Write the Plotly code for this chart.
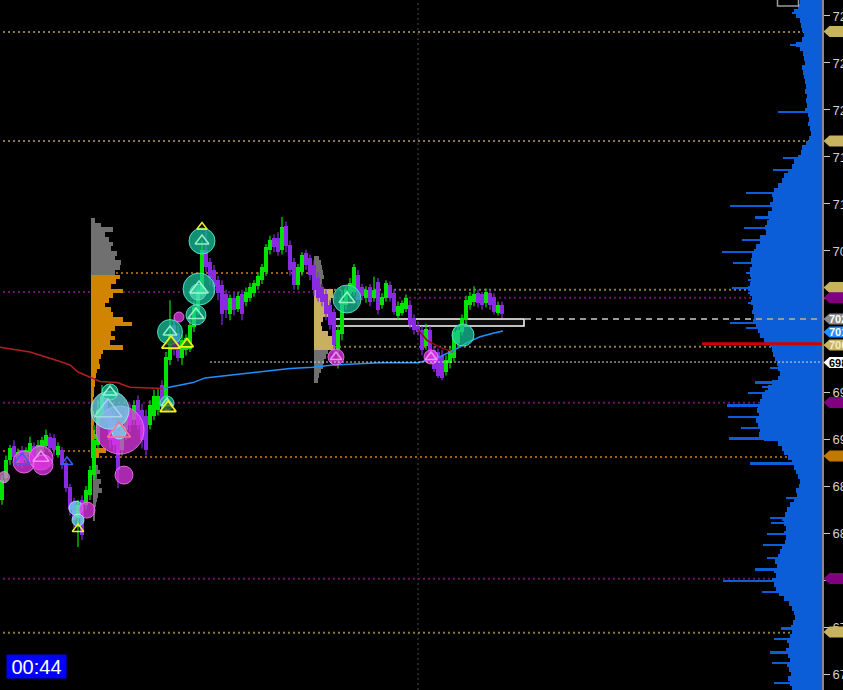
import plotly.graph_objects as go

# ---------------- candles (bar index, OHLC) ----------------
opens = [6868,6887,6902,6914,6900,6911,6902,6906,6914,6906,6911,6914,6922,6921,6906,6911,6900,6879,6866,6853,
         6868,6864,6872,6889,6915,6940,6955,6945,6936,6928,6911,6928,6945,6936,6953,6945,6940,6932,6940,6945,
         6966,6949,6987,7017,7010,6989,6996,6997,7015,7028,7044,7081,7071,7064,7055,7051,7043,7026,7040,7031,
         7043,7037,7040,7044,7050,7055,7062,7081,7091,7091,7081,7101,7085,7071,7051,7062,7078,7074,7068,7057,
         7049,7043,7034,7028,6996,7009,7034,7043,7045,7060,7049,7040,7049,7040,7054,7034,7040,7051,7044,7025,
         7027,7031,7034,7023,7016,7013,6999,7013,6996,6994,6991,6977,6985,6989,7002,7011,7021,7034,7037,7044,
         7043,7036,7044,7041,7027,7034]
highs = [6889,6906,6915,6919,6912,6914,6913,6922,6917,6919,6922,6928,6925,6924,6917,6913,6902,6882,6870,6868,
         6872,6880,6897,6932,6953,6966,6962,6949,6943,6932,6936,6945,6950,6953,6957,6950,6945,6953,6962,6963,
         6970,6994,7038,7023,7016,7009,7009,7021,7037,7050,7089,7098,7074,7068,7059,7055,7047,7043,7045,7045,
         7047,7049,7053,7055,7062,7069,7086,7093,7094,7096,7109,7105,7089,7074,7069,7079,7081,7077,7072,7062,
         7052,7047,7038,7031,7017,7047,7050,7057,7069,7064,7052,7050,7052,7058,7057,7044,7055,7054,7047,7037,
         7038,7043,7038,7026,7020,7016,7018,7016,6999,6997,6996,6991,6999,7014,7016,7026,7042,7045,7050,7047,
         7045,7048,7047,7044,7037,7037]
lows = [6864,6883,6898,6902,6897,6895,6899,6904,6902,6904,6908,6911,6909,6906,6904,6894,6875,6855,6844,6828,
        6834,6860,6868,6885,6911,6936,6932,6912,6909,6878,6906,6919,6926,6932,6928,6912,6906,6928,6936,6940,
        6945,6945,6983,6991,6986,6983,6991,6994,7011,7025,7042,7062,7051,7043,7038,7017,7023,7021,7025,7028,
        7021,7033,7037,7041,7047,7052,7059,7077,7079,7076,7077,7079,7059,7047,7047,7059,7064,7055,7042,7037,
        7033,7021,7013,6987,6980,7004,7030,7038,7042,7034,7038,7036,7033,7037,7026,7031,7037,7037,7026,7022,
        7025,7028,7014,7009,7008,6991,6996,6986,6977,6972,6970,6974,6980,6986,6997,7008,7017,7030,7033,7032,
        7030,7032,7030,7026,7025,7023]
closes = [6885,6902,6912,6905,6909,6900,6911,6917,6905,6915,6919,6923,6912,6911,6914,6898,6878,6860,6851,6864,
          6838,6877,6894,6919,6945,6957,6936,6919,6915,6894,6932,6940,6932,6949,6932,6919,6911,6949,6957,6957,
          6949,6990,7009,6996,6989,7004,7006,7017,7032,7047,7081,7066,7057,7049,7044,7026,7030,7040,7030,7042,
          7026,7045,7049,7053,7059,7066,7083,7089,7083,7079,7100,7084,7064,7051,7066,7077,7068,7060,7047,7040,
          7037,7026,7017,7000,7013,7038,7047,7053,7066,7038,7042,7047,7037,7047,7030,7041,7053,7040,7028,7033,
          7036,7040,7017,7013,7011,6996,7014,6989,6980,6974,6972,6987,6996,7011,7013,7023,7038,7042,7043,7036,
          7034,7045,7034,7028,7034,7026]

# ---------------- VWAP-like lines (bar index, price) ----------------
vwap_x = [40.25,43.25,47.75,50.75,62,72,77.75,82.75,94.5,104,109.5,113.25,116.25,119.5,122.75,125.25]
vwap_p = [6963,6965,6968,6972,6976,6980,6981,6983,6985,6985,6990,6996,7002,7007,7010,7012]
red_x = [-0.5,7,14.5,17,19,22,24.5,28.75,32,40.25]
red_p = [6998,6994,6986,6983,6977,6973,6969,6968,6964,6963]
red2_x = [104,106.25,109.5,112.75]
red2_p = [7013,7004,6998,6994]

# ---------------- session volume profiles (left) ----------------
sessA_start = 22.25
sessA_gray_p = [7106,7102,7098,7094,7090,7086,7082,7078,7074,7070,7066,7062]
sessA_gray_v = [4,10,22,14,18,22,20,26,24,30,29,24]
sessA_or_p = [7058,7054,7050,7046,7042,7038,7034,7030,7026,7022,7018,7014,7010,7006,7002,6998,6994,6990,6986,6982,
              6978,6974,6970,6966,6962,6958,6954,6950,6946,6942,6938,6934,6930,6926,6922,6918,6914,6910,6906]
sessA_or_v = [29,25,20,32,22,18,14,20,22,32,41,24,20,24,19,32,12,10,8,9,
              6,5,4,4,3,3,2,2,2,3,2,3,2,4,9,3,4,15,8]
sessA_low_p = [6900,6896,6892,6888,6884,6880,6876,6872,6868,6864,6860,6856,6852]
sessA_low_v = [3,5,7,4,8,6,9,5,4,3,2,2,2]

sessB_start = 78.0
sessB_top_p = [7074,7070,7066,7062,7058,7054,7050]
sessB_top_v = [5,7,8,9,10,8,7]
sessB_va_p = [7046,7042,7038,7034,7030,7026,7022,7018,7014,7010,7006,7002,6998]
sessB_va_v = [19,19,17,16,18,17,9,7,8,14,19,21,21]
sessB_bot_p = [6994,6990,6986,6982,6978,6974,6970]
sessB_bot_v = [14,12,10,9,7,5,4]

# ---------------- right-hand composite profile ----------------
prof_p = [7292 - 4 * k for k in range(147)]
prof_v = [22,24,28,26,22,21,20,18,20,26,22,19,18,17,20,19,18,17,16,17,
          15,16,15,17,14,13,14,12,11,13,16,20,21,24,28,30,34,38,40,44,
          48,50,49,52,50,54,53,55,57,56,62,62,66,68,70,71,70,72,72,71,
          72,74,72,70,71,69,70,68,69,66,64,62,58,52,50,49,47,45,44,42,
          44,50,54,57,60,62,64,65,63,66,64,62,63,58,44,40,38,34,30,28,
          26,24,22,23,26,25,28,32,35,37,40,38,36,38,36,37,40,42,44,47,
          45,48,46,50,48,46,43,38,33,30,28,27,29,31,30,32,35,33,36,34,
          32,35,33,31,34,32,30]
spike_p = [7282.5,7255.3,7198.3,7159.1,7148.9,7129.3,7118.3,7108.9,7099.6,7091.9,7089.3,7079.1,7069.8,7061.3,
           7055.3,7048.5,7044.2,7035.7,7028.9,7018.7,7014.4,6980.4,6968.5,6964.2,6959.1,6948.9,6938.7,6929.3,
           6920.8,6899.5,6869.7,6852.7,6848.5,6839.1,6829.8,6818.7,6809.3,6799.1,6789.8,6759.1,6749.7,6738.7,
           6729.3,6712.3]
spike_v = [30,32,44,39,49,76,92,67,78,58,80,100,89,76,74,90,74,74,69,92,76,52,67,60,74,95,94,81,
           93,72,36,52,51,55,59,55,67,99,60,41,48,52,50,48]

# ---------------- bubbles & triangles ----------------
bub_x = [0.5,5.5,9.75,10.25,30.5,29.5,27,29.25,27,18.5,21.25,19,41.25,42,44.25,48.5,49.25,49,50,86.25,83.5,107.25,115.25]
bub_p = [6887.6,6900.4,6903.8,6898,6889.3,6927.6,6944.6,6926,6960,6861.2,6859.5,6851,6950.6,7011,7023.8,7025.5,
         7047.6,7045,7088.5,7039.1,6989.8,6989.8,7008.5]
bub_vol = [11,22,24,20,18,48,38,14,16,14,16,12,14,25,10,20,32,16,26,28,16,14,22]
bub_kind = ['pink','mag','mag','mag','mag','mag','cyan','cyan','teal','cyan','mag','cyan','teal','teal','mag',
            'teal','teal','tealhi','teal','teal','mag','mag','teal']

tri_x = [5,9.75,16.25,19,29.25,27,26.5,41.25,42,48.5,49.25,50,50,86.25,83.5,107.25]
tri_p = [6902,6904,6900.4,6843.4,6926,6960,6944,6950.6,7011,7025.5,7047.6,7088.5,7100.4,7039.1,6989.8,6989.8]
tri_sz = [14,14,10,10,20,12,24,10,12,14,16,12,9,14,10,10]
tri_kind = ['blue','pink','blue','yellow','salmon','light','lightc','light','light','light','light','light','yellow',
            'light','pink','pink']
tri_solid_x = [41.5,42.25,46.25]
tri_solid_p = [6946.4,7000.8,7000.8]
tri_solid_sz = [14,16,11]

# ---------------- price levels ----------------
# (price, colour key, start bar, end bar)
levels = [(7266.4,'gold',-1,205),(7173.6,'gold',-1,205),(7061.3,'orange',22.25,78),(7045.1,'purple',-1,82),
          (7047.0,'gold',78,205),(7040.2,'purple',83,205),(6998.6,'gold',78,205),(6950.9,'purple',-1,205),
          (6909.7,'orange',-1,22.5),(6904.6,'orange',24.5,205),(6801.1,'purple',-1,205),(6755.1,'gold',-1,205)]
axis_tags = [(7266.8,'gold',''),(7173.6,'gold',''),(7049.0,'gold',''),(7040.2,'purple',''),
             (7022.1,'gray','7022.75'),(7011.1,'blue','7011.25'),(7000.0,'gold','7000.00'),
             (6985.1,'white','6985.50'),(6951.1,'purple',''),(6905.5,'orange',''),(6801.3,'purple',''),
             (6755.7,'gold','')]
last_price = 7022.1
vwap_last = 7011.1
red_level = 7001.0
white_level = 6985.5
box_lo, box_hi = 7016.2, 7022.1
ticks = list(range(6720, 7281, 40))
hidden_ticks = [7040, 7000, 6800]   # covered by level tags on the price scale
timer_text = "00:44"

# ======================================================
W, H = 843, 690
PR = 21
PW = W - PR
line_col = {'gold': '#8c7b45', 'purple': '#6e106e', 'orange': '#9a6010'}
tag_col = {'gold': '#c8b35e', 'purple': '#800080', 'orange': '#c07800', 'gray': '#8a8a8a',
           'blue': '#1e90ff', 'white': '#ffffff'}
tag_txt = {'gold': '#f4ecc8', 'gray': '#ffffff', 'blue': '#ffffff', 'white': '#000000',
           'purple': '#ffffff', 'orange': '#ffffff'}
bub_col = {'teal': 'rgba(25,200,160,0.72)', 'tealhi': 'rgba(90,240,200,0.55)', 'mag': 'rgba(225,55,230,0.75)',
           'cyan': 'rgba(110,220,235,0.75)', 'pink': 'rgba(210,130,210,0.75)'}
bub_line = {'teal': 'rgba(90,230,200,0.9)', 'tealhi': 'rgba(120,255,220,0.6)', 'mag': 'rgba(245,120,245,0.85)',
            'cyan': 'rgba(160,240,245,0.85)', 'pink': 'rgba(230,160,230,0.8)'}
tri_col = {'blue': '#3a5cff', 'pink': 'rgba(255,150,255,0.9)', 'yellow': '#f0f020', 'salmon': '#ff7090',
           'light': 'rgba(170,255,210,0.85)', 'lightc': 'rgba(170,225,235,0.8)'}
GREEN, PURPLE = '#00e400', '#8a2be2'

fig = go.Figure()

# --- left session profiles (main x axis) ---
def hbars(prices, vols, base, color):
    fig.add_trace(go.Bar(y=prices, x=[v / 4.0 for v in vols], base=base, orientation='h', width=4,
                         marker=dict(color=color, line=dict(width=0)), xaxis='x', yaxis='y'))

hbars(sessA_gray_p, sessA_gray_v, sessA_start, '#707070')
hbars(sessA_or_p, sessA_or_v, sessA_start, '#d08400')
hbars(sessA_low_p, sessA_low_v, sessA_start + 0.5, '#6a6a6a')
hbars(sessB_top_p, sessB_top_v, sessB_start, '#707070')
hbars(sessB_va_p, sessB_va_v, sessB_start, '#c8b060')
hbars(sessB_bot_p, sessB_bot_v, sessB_start, '#707070')

# --- candles (x2) ---
n = len(opens)
for is_up, col in ((True, GREEN), (False, PURPLE)):
    ix = [i for i in range(n) if (closes[i] >= opens[i]) == is_up]
    wx, wy = [], []
    for i in ix:
        wx += [i, i, None]
        wy += [lows[i], highs[i], None]
    fig.add_trace(go.Scatter(x=wx, y=wy, mode='lines', line=dict(color=col, width=1.2),
                             xaxis='x2', yaxis='y'))
    fig.add_trace(go.Bar(x=ix, y=[abs(closes[i] - opens[i]) for i in ix],
                         base=[min(opens[i], closes[i]) for i in ix], width=0.82,
                         marker=dict(color=col, line=dict(width=0)), xaxis='x2', yaxis='y'))

fig.add_trace(go.Scatter(x=red_x, y=red_p, mode='lines', line=dict(color='#b02020', width=1.5),
                         xaxis='x2', yaxis='y'))
fig.add_trace(go.Scatter(x=red2_x, y=red2_p, mode='lines', line=dict(color='#8a1010', width=1.5),
                         xaxis='x2', yaxis='y'))
fig.add_trace(go.Scatter(x=vwap_x, y=vwap_p, mode='lines', line=dict(color='#2090ff', width=1.5),
                         xaxis='x2', yaxis='y'))

fig.add_trace(go.Scatter(x=bub_x, y=bub_p, mode='markers', xaxis='x2', yaxis='y',
                         marker=dict(size=bub_vol, opacity=1, color=[bub_col[k] for k in bub_kind],
                                     line=dict(color=[bub_line[k] for k in bub_kind], width=1))))
fig.add_trace(go.Scatter(x=tri_x, y=tri_p, mode='markers', xaxis='x2', yaxis='y',
                         marker=dict(symbol='triangle-up-open', size=tri_sz, opacity=1,
                                     color=[tri_col[k] for k in tri_kind], line=dict(width=1.5))))
fig.add_trace(go.Scatter(x=tri_solid_x, y=tri_solid_p, mode='markers', xaxis='x2', yaxis='y',
                         marker=dict(symbol='triangle-up', size=tri_solid_sz, opacity=1, color='rgba(50,50,0,0.55)',
                                     line=dict(color='#f0f020', width=1.8))))

# --- right composite profile (x3, reversed) ---
PCOL = '#0b5ed7'
fig.add_trace(go.Bar(y=prof_p, x=prof_v, orientation='h', width=4, marker=dict(color=PCOL, line=dict(width=0)),
                     xaxis='x3', yaxis='y'))
fig.add_trace(go.Bar(y=spike_p, x=spike_v, orientation='h', width=1.7, marker=dict(color=PCOL, line=dict(width=0)),
                     xaxis='x3', yaxis='y'))

shapes = []
for p, key, x0, x1 in levels:
    shapes.append(dict(type='line', xref='x', yref='y', x0=x0, x1=x1, y0=p, y1=p, layer='below',
                       line=dict(color=line_col[key], width=2, dash='2px,3px')))
shapes.append(dict(type='line', xref='x', yref='paper', x0=104, x1=104, y0=0, y1=1, layer='below',
                   line=dict(color='#4a4a4a', width=1, dash='2px,3px')))
shapes.append(dict(type='rect', xref='x', yref='y', x0=83, x1=130.5, y0=box_lo, y1=box_hi, layer='below',
                   fillcolor='#0e0e0e', line=dict(color='#ffffff', width=1.5)))
shapes.append(dict(type='line', xref='x', yref='y', x0=130.75, x1=205, y0=last_price, y1=last_price, layer='above',
                   line=dict(color='#9a9a9a', width=2, dash='6px,5px')))
shapes.append(dict(type='line', xref='x', yref='y', x0=52, x1=205, y0=white_level, y1=white_level, layer='above',
                   line=dict(color='#d8d8d8', width=1, dash='2px,2px')))
shapes.append(dict(type='line', xref='x', yref='y', x0=175, x1=205, y0=red_level, y1=red_level, layer='above',
                   line=dict(color='#d00000', width=3)))

annotations = []
hh = 5.5 * (7293.6 - 6706.4) / H
tip, neck, right = 823.5 / PW, 829.5 / PW, 846.0 / PW
for p, key, txt in axis_tags:
    path = (f"M {tip},{p} L {neck},{p + hh} L {right},{p + hh} L {right},{p - hh} "
            f"L {neck},{p - hh} Z")
    shapes.append(dict(type='path', xref='paper', yref='y', path=path, layer='above',
                       fillcolor=tag_col[key], line=dict(width=0)))
    if txt:
        annotations.append(dict(xref='paper', yref='y', x=826.5 / PW, y=p, xanchor='left', yanchor='middle',
                                text=f"<b>{txt}</b>", showarrow=False,
                                font=dict(family='Liberation Sans', size=11, color=tag_txt[key])))

# small box top-right
shapes.append(dict(type='rect', xref='paper', yref='paper', x0=777.5 / PW, x1=798.5 / PW,
                   y0=(H - 6) / H, y1=1.02, layer='above', fillcolor='#000000',
                   line=dict(color='#9a9a9a', width=1.5)))

annotations.append(dict(xref='paper', yref='paper', x=6.0 / PW, y=11.0 / H, xanchor='left', yanchor='bottom',
                        text=timer_text, showarrow=False, bgcolor='#0000ff', borderpad=0, width=59, height=23,
                        font=dict(family='Liberation Sans', size=20, color='#ffffff')))

fig.update_layout(
    width=W, height=H, margin=dict(l=0, r=PR, t=0, b=0, autoexpand=False),
    paper_bgcolor='#000000', plot_bgcolor='#000000',
    showlegend=False, hovermode=False, barmode='overlay', bargap=0,
    xaxis=dict(range=[-0.5, 205.0], visible=False, fixedrange=True),
    xaxis2=dict(range=[-0.5, 205.0], overlaying='x', visible=False),
    xaxis3=dict(range=[PW, 0], overlaying='x', visible=False),
    yaxis=dict(range=[6706.4, 7293.6], side='right', showgrid=False, zeroline=False, automargin=False,
               tickvals=ticks, ticktext=['' if t in hidden_ticks else str(t) for t in ticks],
               ticks='outside', ticklen=6,
               tickcolor='#c8c8c8', tickwidth=1, showline=True, linecolor='#8a8a8a', linewidth=2,
               tickfont=dict(family='Liberation Sans', size=13, color='#d0d0d0')),
    shapes=shapes, annotations=annotations,
)

fig.write_html("out.html", config={'displayModeBar': False},
               post_script="document.body.style.margin='0';document.body.style.overflow='hidden';")
